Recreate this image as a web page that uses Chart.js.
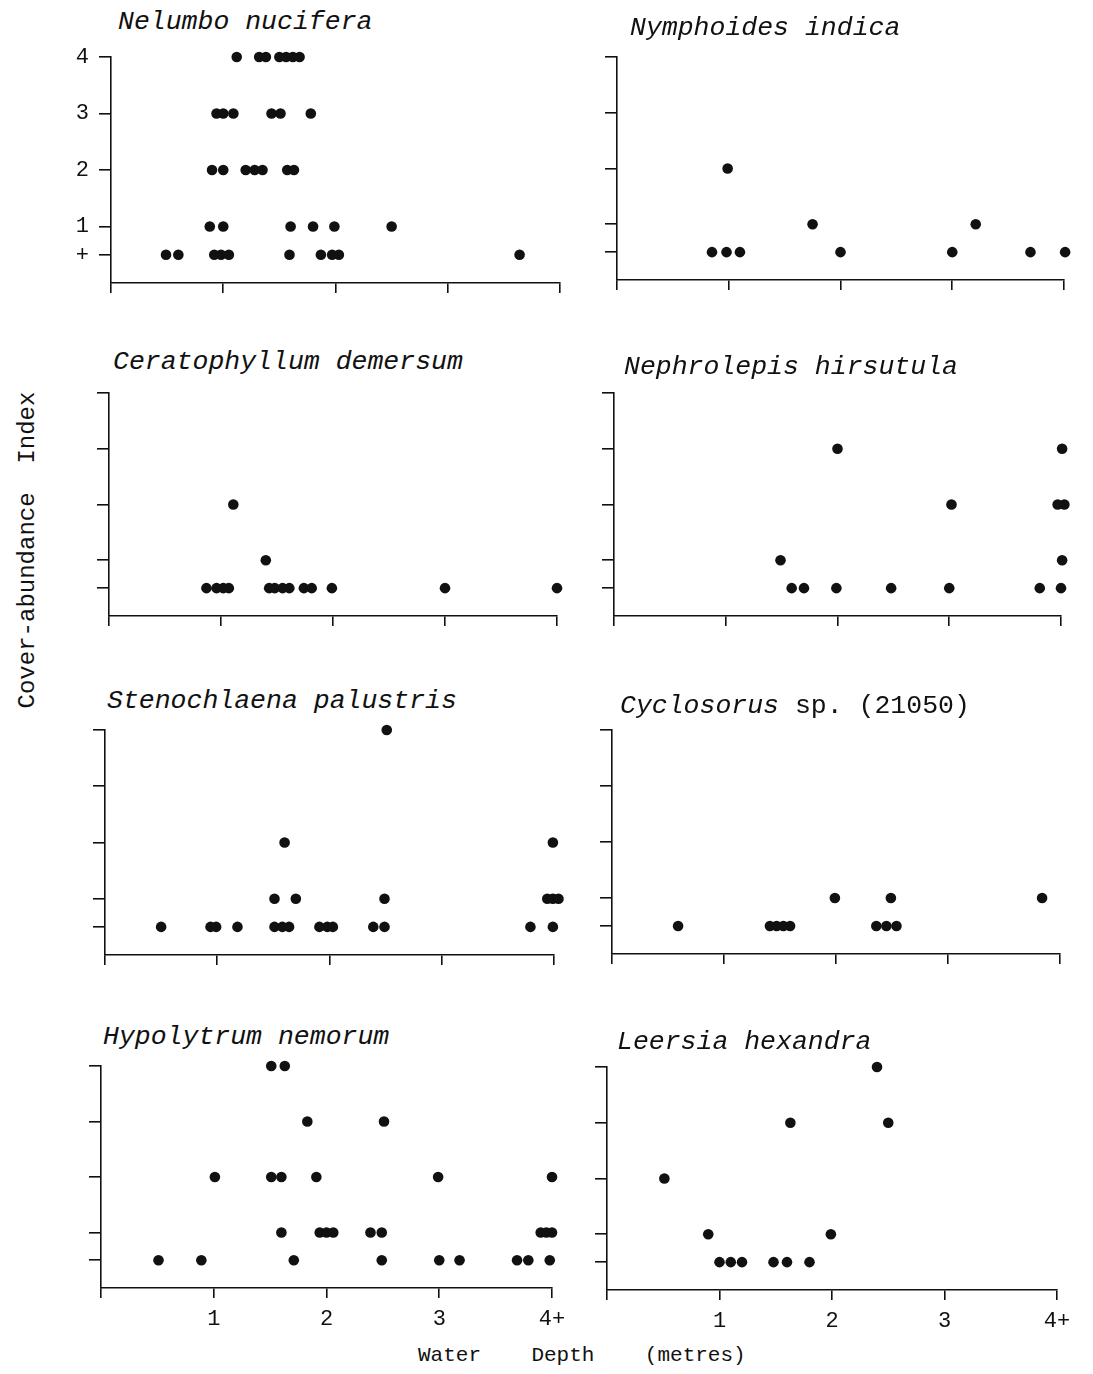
<!DOCTYPE html>
<html>
<head>
<meta charset="utf-8">
<script src="https://cdn.jsdelivr.net/npm/chart.js@4.4.0/dist/chart.umd.min.js"></script>
<style>
  body { margin: 0; background: #fff; width: 1093px; height: 1374px; position: relative; overflow: hidden;
         font-family: "Liberation Mono", "Courier New", monospace; color: #111; }
  canvas { position: absolute; }
  .title { position: absolute; font-size: 26.5px; line-height: 26px; white-space: pre; font-style: italic; }
  .title span { font-style: normal; }
  .axis-title { position: absolute; font-size: 22px; line-height: 22px; white-space: pre; }
</style>
</head>
<body>
<script>
// axis ticks: "+" is plotted half way between 0 and 1
const coverTicks = [0.5, 1, 2, 3, 4];
const coverLabels = ['+', '1', '2', '3', '4'];
const depthTicks = [0, 1, 2, 3, 4];
const depthLabels = ['', '1', '2', '3', '4+'];

// --- data: depth (m) and cover-abundance class ---
const nelumboDepth = [1.12, 1.32, 1.38, 1.50, 1.56, 1.62, 1.68,
  0.94, 1.00, 1.09, 1.43, 1.51, 1.78,
  0.90, 1.00, 1.20, 1.28, 1.35, 1.57, 1.63,
  0.88, 1.00, 1.60, 1.80, 1.99, 2.50,
  0.49, 0.60, 0.92, 0.98, 1.05, 1.59, 1.87, 1.97, 2.03, 3.64];
const nelumboCover = ['4', '4', '4', '4', '4', '4', '4',
  '3', '3', '3', '3', '3', '3',
  '2', '2', '2', '2', '2', '2', '2',
  '1', '1', '1', '1', '1', '1',
  '+', '+', '+', '+', '+', '+', '+', '+', '+', '+'];

const nymphoidesDepth = [0.99, 1.75, 3.21, 0.85, 0.98, 1.10, 2.00, 3.00, 3.70, 4.01];
const nymphoidesCover = ['2', '1', '1', '+', '+', '+', '+', '+', '+', '+'];

const ceratophyllumDepth = [1.11, 1.40,
  0.87, 0.96, 1.02, 1.07, 1.43, 1.48, 1.55, 1.61, 1.74, 1.81, 1.99, 3.00, 4.00];
const ceratophyllumCover = ['2', '1',
  '+', '+', '+', '+', '+', '+', '+', '+', '+', '+', '+', '+', '+'];

const nephrolepisDepth = [2.00, 4.01, 3.02, 3.97, 4.03, 1.49, 4.01,
  1.59, 1.70, 1.99, 2.48, 3.00, 3.81, 4.00];
const nephrolepisCover = ['3', '3', '2', '2', '2', '1', '1',
  '+', '+', '+', '+', '+', '+', '+'];

const stenochlaenaDepth = [2.51, 1.60, 3.99,
  1.51, 1.70, 2.49, 3.94, 3.99, 4.04,
  0.50, 0.94, 0.99, 1.18, 1.51, 1.58, 1.64, 1.91, 1.98, 2.03, 2.39, 2.49, 3.79, 3.99];
const stenochlaenaCover = ['4', '2', '2',
  '1', '1', '1', '1', '1', '1',
  '+', '+', '+', '+', '+', '+', '+', '+', '+', '+', '+', '+', '+', '+'];

const cyclosorusDepth = [1.99, 2.49, 3.84, 0.59, 1.41, 1.47, 1.53, 1.59, 2.36, 2.45, 2.54];
const cyclosorusCover = ['1', '1', '1', '+', '+', '+', '+', '+', '+', '+', '+'];

const hypolytrumDepth = [1.51, 1.63, 1.83, 2.51,
  1.01, 1.51, 1.60, 1.91, 2.99, 4.00,
  1.60, 1.94, 2.00, 2.06, 2.39, 2.49, 3.90, 3.95, 4.00, 4.05,
  0.51, 0.89, 1.71, 2.49, 3.00, 3.18, 3.69, 3.79, 3.98];
const hypolytrumCover = ['4', '4', '3', '3',
  '2', '2', '2', '2', '2', '2',
  '1', '1', '1', '1', '1', '1', '1', '1', '1', '1',
  '+', '+', '+', '+', '+', '+', '+', '+', '+'];

const leersiaDepth = [2.40, 1.63, 2.50, 0.51, 0.90, 1.99, 1.00, 1.10, 1.20, 1.48, 1.60, 1.80];
const leersiaCover = ['4', '3', '3', '2', '1', '1', '+', '+', '+', '+', '+', '+'];

// --- layout of the eight panels (plot area in page pixels) ---
const panels = [
  { name: 'Nelumbo nucifera', depth: nelumboDepth, cover: nelumboCover,
    left: 111, right: 560, top: 57, bottom: 283, tx: 118, ty: 22, yLab: true },
  { name: 'Nymphoides indica', depth: nymphoidesDepth, cover: nymphoidesCover,
    left: 617, right: 1064, top: 57, bottom: 280, tx: 630, ty: 28 },
  { name: 'Ceratophyllum demersum', depth: ceratophyllumDepth, cover: ceratophyllumCover,
    left: 109, right: 557, top: 393, bottom: 616, tx: 113, ty: 362 },
  { name: 'Nephrolepis hirsutula', depth: nephrolepisDepth, cover: nephrolepisCover,
    left: 614, right: 1061, top: 393, bottom: 616, tx: 624, ty: 367 },
  { name: 'Stenochlaena palustris', depth: stenochlaenaDepth, cover: stenochlaenaCover,
    left: 105, right: 554, top: 730, bottom: 955, tx: 107, ty: 701 },
  { name: 'Cyclosorus', extra: ' sp. (21050)', depth: cyclosorusDepth, cover: cyclosorusCover,
    left: 612, right: 1060, top: 730, bottom: 954, tx: 620, ty: 706 },
  { name: 'Hypolytrum nemorum', depth: hypolytrumDepth, cover: hypolytrumCover,
    left: 101, right: 552, top: 1066, bottom: 1288, tx: 103, ty: 1037, xLab: true },
  { name: 'Leersia hexandra', depth: leersiaDepth, cover: leersiaCover,
    left: 607, right: 1057, top: 1067, bottom: 1290, tx: 617, ty: 1042, xLab: true }
];

const YW = 60, XH = 50, PT = 12, PR = 16;
const ink = '#111';
const tickFont = { family: '"Liberation Mono", "Courier New", monospace', size: 22 };

// fixed axis box, no extra edge padding for labels
function fixBox(s, size) {
  if (s.isHorizontal()) s.height = size; else s.width = size;
  s.paddingLeft = s.paddingRight = s.paddingTop = s.paddingBottom = 0;
}

function makePanel(p) {
  const cv = document.createElement('canvas');
  const w = p.right - p.left + YW + PR;
  const h = p.bottom - p.top + PT + XH;
  cv.width = w; cv.height = h;
  cv.style.width = w + 'px'; cv.style.height = h + 'px';
  cv.style.left = (p.left - YW) + 'px';
  cv.style.top = (p.top - PT) + 'px';
  document.body.appendChild(cv);

  const t = document.createElement('div');
  t.className = 'title';
  t.style.left = p.tx + 'px';
  t.style.top = (p.ty - 13) + 'px';
  t.textContent = p.name;
  if (p.extra) {
    const s = document.createElement('span');
    s.textContent = p.extra;
    t.appendChild(s);
  }
  document.body.appendChild(t);

  const pts = p.depth.map((d, k) => ({ x: d, y: coverTicks[coverLabels.indexOf(p.cover[k])] }));

  new Chart(cv, {
    type: 'scatter',
    data: { datasets: [{ data: pts, pointRadius: 5.3, pointHoverRadius: 5.3,
      backgroundColor: ink, borderWidth: 0, clip: false }] },
    options: {
      responsive: false,
      animation: false,
      layout: { padding: { top: PT, right: PR, left: 0, bottom: 0 } },
      plugins: { legend: { display: false }, tooltip: { enabled: false } },
      scales: {
        x: {
          type: 'linear', min: 0, max: 4,
          afterBuildTicks: s => { s.ticks = depthTicks.map(v => ({ value: v })); },
          afterFit: s => fixBox(s, XH),
          grid: { drawOnChartArea: false, drawTicks: true, tickLength: 10, color: ink, lineWidth: 1.6 },
          border: { display: true, color: ink, width: 1.6 },
          ticks: { color: ink, font: tickFont, padding: 8, maxRotation: 0, autoSkip: false,
            callback: v => p.xLab ? depthLabels[depthTicks.indexOf(v)] : '' }
        },
        y: {
          type: 'linear', min: 0, max: 4,
          afterBuildTicks: s => { s.ticks = coverTicks.map(v => ({ value: v })); },
          afterFit: s => fixBox(s, YW),
          grid: { drawOnChartArea: false, drawTicks: true, tickLength: 12, color: ink, lineWidth: 1.6 },
          border: { display: true, color: ink, width: 1.6 },
          ticks: { color: ink, font: tickFont, padding: 10, autoSkip: false,
            callback: v => p.yLab ? coverLabels[coverTicks.indexOf(v)] : '' }
        }
      }
    }
  });
}

panels.forEach(makePanel);

// shared axis titles
const yt = document.createElement('div');
yt.className = 'axis-title';
yt.style.fontSize = '24px';
yt.textContent = 'Cover-abundance  Index';
yt.style.left = '28px';
yt.style.top = '550px';
yt.style.transform = 'translate(-50%, -50%) rotate(-90deg)';
document.body.appendChild(yt);

const xt = document.createElement('div');
xt.className = 'axis-title';
xt.style.fontSize = '21px';
xt.textContent = 'Water    Depth    (metres)';
xt.style.left = '418px';
xt.style.top = '1345px';
document.body.appendChild(xt);
</script>
</body>
</html>
